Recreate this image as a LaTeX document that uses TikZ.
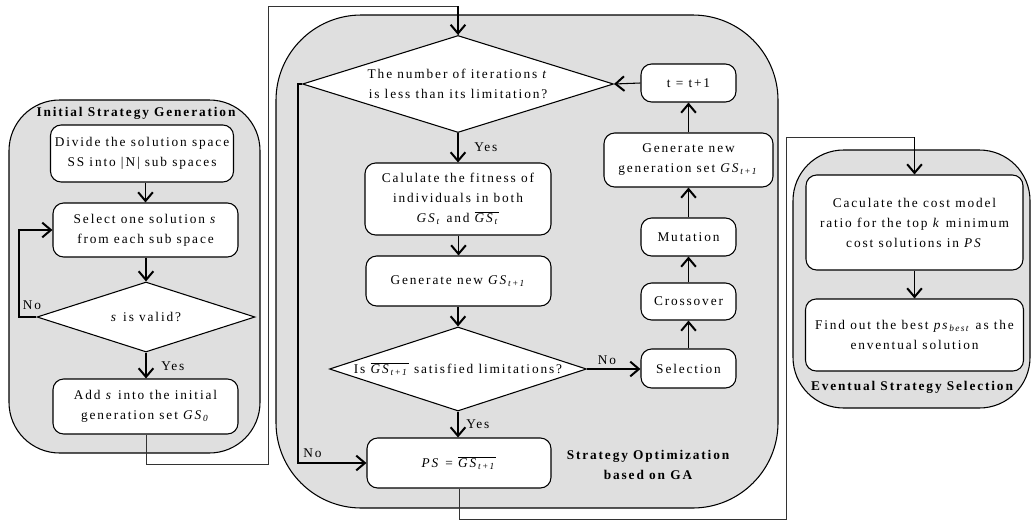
\documentclass[tikz,border=0pt]{standalone}
\usepackage{fontspec}
\setmainfont{Liberation Serif}[LetterSpace=14]
\usetikzlibrary{shapes.geometric,arrows.meta,calc}
\definecolor{panelgray}{HTML}{DFDFDF}
\newcommand\myfs{\fontsize{10}{15}\selectfont}
\newcommand\GS[1]{\textit{GS}\textsubscript{\textit{#1}}}
\newcommand\oGS[1]{$\overline{\hbox{\GS{#1}}}$}
\tikzset{
 panel/.style={draw, fill=panelgray, line width=0.8pt},
 box/.style={draw, fill=white, rounded corners=8pt, inner sep=0pt, align=center, font=\myfs, line width=0.8pt},
 dia/.style={draw, fill=white, diamond, inner sep=0pt, line width=0.8pt},
 sz/.style 2 args={minimum width=#1*0.75pt, minimum height=#2*0.75pt},
 txt/.style={align=center, font=\myfs, inner sep=0pt},
 ttl/.style={align=center, font=\myfs\bfseries, inner sep=0pt},
 lbl/.style={font=\myfs, inner sep=0pt},
 arr/.style={line width=0.8pt, -{Straight Barb[length=6.5pt,width=11pt,line width=1.5pt]}},
 con/.style={line width=0.6pt, draw=black!80},
}
\begin{document}
\begin{tikzpicture}
\begin{scope}[x=0.75pt,y=-0.75pt]
\useasboundingbox (0,0) rectangle (1034,521);
% panels
\draw[panel, rounded corners=38pt] (9,100) rectangle (260,453);
\draw[panel, rounded corners=64pt] (276,15) rectangle (778,508);
\draw[panel, rounded corners=38pt] (793,150) rectangle (1030,408);

% left panel
\node[ttl] (t1) at (136,113) {Initial Strategy Generation};
\node[box, sz={183}{57}] (b1) at (142,153.5) {Divide the solution space\\SS into |N| sub spaces};
\node[box, sz={185}{54}] (b2) at (145.5,230) {Select one solution \textit{s}\\from each sub space};
\node[dia, sz={218}{70}] (d1) at (146,317) {};
\node[txt] (d1t) at (d1.center) {\textit{s} is valid?};
\node[box, sz={185}{55}] (b3) at (145.5,406.5) {Add \textit{s} into the initial\\generation set \GS{0}};
\node[lbl] (no1) at (32,305) {No};
\node[lbl, anchor=west] (yes1) at (161,366) {Yes};

% middle panel
\node[dia, sz={311}{97}] (dA) at (458,84) {};
\node[txt] (dAt) at (dA.center) {The number of iterations \textit{t}\\is less than its limitation?};
\node[box, sz={186}{72}] (c1) at (458,199) {Calulate the fitness of\\individuals in both\\\GS{t} and \oGS{t}};
\node[box, sz={185}{50}] (c2) at (458.5,281) {Generate new \GS{t+1}};
\node[dia, sz={257}{84}] (dB) at (458,369) {};
\node[txt] (dBt) at (dB.center) {Is \oGS{t+1} satisfied limitations?};
\node[box, sz={184}{50}] (ps) at (459,463) {\textit{PS} = \oGS{t+1}};
\node[box, sz={95}{39}] (sel) at (688.5,368.5) {Selection};
\node[box, sz={95}{37}] (cro) at (688.5,301.5) {Crossover};
\node[box, sz={95}{38}] (mut) at (688.5,237) {Mutation};
\node[box, sz={169}{54}] (gen) at (688.5,160) {Generate new\\generation set \GS{t+1}};
\node[box, sz={95}{38}] (inc) at (688.5,83) {t = t+1};
\node[ttl] (t2) at (648,465) {Strategy Optimization\\based on GA};
\node[lbl, anchor=west] (yes2) at (474,147) {Yes};
\node[lbl, anchor=west] (yes3) at (466,424) {Yes};
\node[lbl] (no2) at (607,360) {No};
\node[lbl, anchor=west] (no3) at (303,453) {No};

% right panel
\node[box, sz={217}{95}] (e1) at (914.5,222.5) {Caculate the cost model\\ratio for the top \textit{k} minimum\\cost solutions in \textit{PS}};
\node[box, sz={218}{72}] (e2) at (914.5,335) {Find out the best \textit{ps}\textsubscript{\textit{best}} as the\\enventual solution};
\node[ttl] (t3) at (912,387) {Eventual Strategy Selection};

\coordinate (k1) at (19,317);
\coordinate (k2) at (298,84);
\coordinate (j1) at (146,464);
\coordinate (j2) at (268,464);
\coordinate (j3) at (268,6);
\coordinate (j4) at (458,6);
\coordinate (m1) at (459,519.5);
\coordinate (m2) at (786,519.5);
\coordinate (m3) at (786,137);
\coordinate (m4) at (914.5,137);
\end{scope}

\draw[arr] (b1.south -| b2.north) -- (b2.north);
\draw[arr] (b2.south -| d1.north) -- (d1.north);
\draw[arr] (d1.south) -- (b3.north -| d1.south);
\draw[arr] (d1.west) -- (k1) |- (b2.west);
\draw[arr] (dA.south) -- (c1.north -| dA.south);
\draw[arr] (c1.south -| c2.north) -- (c2.north);
\draw[arr] (c2.south -| dB.north) -- (dB.north);
\draw[arr] (dB.east) -- (sel.west |- dB.east);
\draw[arr] (sel.north) -- (cro.south);
\draw[arr] (cro.north) -- (mut.south);
\draw[arr] (mut.north) -- (gen.south);
\draw[arr] (gen.north) -- (inc.south);
\draw[arr] (inc.west) -- (dA.east);
\draw[arr] (dB.south) -- (ps.north -| dB.south);
\draw[arr] (dA.west) -- (k2) |- (ps.west);
\draw[arr] (e1.south) -- (e2.north);
\draw[con] (b3.south -| d1.south) -- (j1) -- (j2) -- (j3) -- (j4) -- (dA.north);
\draw[arr] (j4) -- (dA.north);
\draw[con] (ps.south) -- (m1) -- (m2) -- (m3) -- (m4) -- (e1.north);
\draw[arr] (m4) -- (e1.north);
\end{tikzpicture}
\end{document}
